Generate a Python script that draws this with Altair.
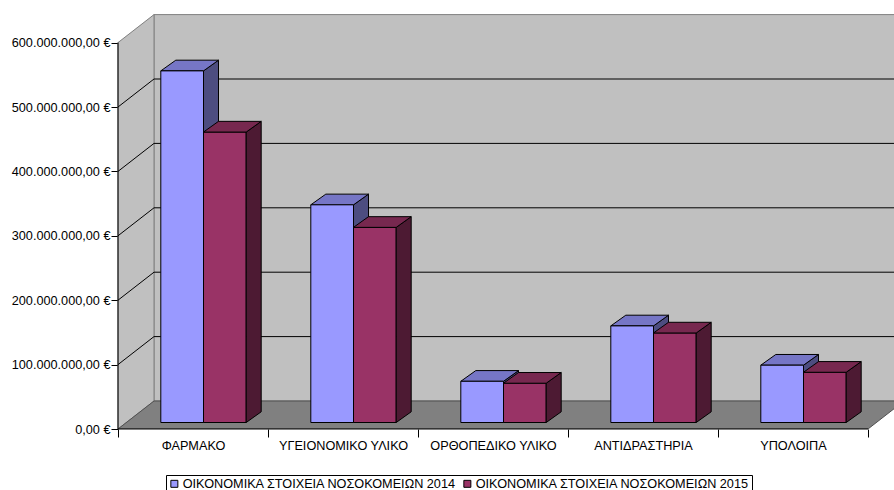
import json

import altair as alt
import pandas as pd

# ---- data -------------------------------------------------------------
categories = ["ΦΑΡΜΑΚΟ", "ΥΓΕΙΟΝΟΜΙΚΟ ΥΛΙΚΟ", "ΟΡΘΟΠΕΔΙΚΟ ΥΛΙΚΟ", "ΑΝΤΙΔΡΑΣΤΗΡΙΑ", "ΥΠΟΛΟΙΠΑ"]
series = [
    "ΟΙΚΟΝΟΜΙΚΑ ΣΤΟΙΧΕΙΑ ΝΟΣΟΚΟΜΕΙΩΝ 2014",
    "ΟΙΚΟΝΟΜΙΚΑ ΣΤΟΙΧΕΙΑ ΝΟΣΟΚΟΜΕΙΩΝ 2015",
]
values_2014 = [546e6, 338e6, 64e6, 150e6, 89e6]
values_2015 = [451e6, 303e6, 61e6, 139e6, 78e6]
y_ticks = [0, 100e6, 200e6, 300e6, 400e6, 500e6, 600e6]

# ---- styling ----------------------------------------------------------
front_colors = ["#9999FF", "#993366"]
top_colors = ["#7676C6", "#77284F"]
side_colors = ["#4D4D80", "#4D1A33"]
WALL = "#C0C0C0"
FLOOR = "#808080"
EDGE = "#808080"
FONT = "Liberation Sans"
FS = 12.7

# ---- geometry (pixel sizes converted into data units) ------------------
W, H = 776, 415
PX_PER_CAT = 150.0
AXIS_MAX = y_ticks[-1]
PX_PER_VAL = 386.4 / AXIS_MAX
XMAX = W / PX_PER_CAT
YMAX = H / PX_PER_VAL
N = len(categories)


def dx(p):
    return p / PX_PER_CAT


def dy(p):
    return p / PX_PER_VAL


WALL_DX, WALL_DY = dx(36), dy(28)
BAR_OX, BAR_OY = dx(10.5), dy(6.5)
BAR_W = dx(42.7)
BAR_DX, BAR_DY = dx(15), dy(10.7)

xs = alt.Scale(domain=[0, XMAX], nice=False, zero=False)
ys = alt.Scale(domain=[0, YMAX], nice=False, zero=False)

# one shared axis definition per channel, used by every layer
cat_expr = json.dumps(categories, ensure_ascii=False).replace('"', "'")
x_axis = alt.Axis(
    values=list(range(N + 1)),
    domain=False,
    grid=False,
    tickColor="black",
    tickSize=8,
    labelExpr=f"{cat_expr}[datum.value] || ''",
    labelOffset=PX_PER_CAT / 2,
    labelFlush=False,
    labelOverlap=False,
    labelBound=False,
    labelPadding=2,
    labelFont=FONT,
    labelFontSize=FS,
    labelColor="black",
    title=None,
)
y_axis = alt.Axis(
    values=y_ticks,
    domain=False,
    grid=False,
    tickColor="black",
    tickSize=7,
    labelExpr="datum.value == 0 ? '0,00 €' : format(datum.value / 1e6, 'd') + '.000.000,00 €'",
    labelPadding=1,
    labelFont=FONT,
    labelFontSize=FS,
    labelColor="black",
    title=None,
)


def X(field="x"):
    return alt.X(f"{field}:Q", scale=xs, axis=x_axis)


def Y(field="y"):
    return alt.Y(f"{field}:Q", scale=ys, axis=y_axis)


# ---- 3D bar faces -----------------------------------------------------
fronts, tops, sides = [], [], []
for s, vals in enumerate([values_2014, values_2015]):
    for i, v in enumerate(vals):
        x0 = i + 0.5 - BAR_W + BAR_OX + s * BAR_W
        x1 = x0 + BAR_W
        top = BAR_OY + v
        fid = f"{s}-{i}"
        fronts.append(dict(series=series[s], x=x0, x2=x1, y=BAR_OY, y2=top))
        tops.append(dict(s=s, id=fid, y=top, x=x0, x2=x1))
        tops.append(dict(s=s, id=fid, y=top + BAR_DY, x=x0 + BAR_DX, x2=x1 + BAR_DX))
        sides.append(dict(s=s, id=fid, x=x1, y=top, y2=BAR_OY))
        sides.append(dict(s=s, id=fid, x=x1 + BAR_DX, y=top + BAR_DY, y2=BAR_OY + BAR_DY))

front_df = pd.DataFrame(fronts)
top_df = pd.DataFrame(tops)
side_df = pd.DataFrame(sides)


def side_layer(s):
    return (
        alt.Chart(side_df[side_df.s == s])
        .mark_area(stroke="black", strokeWidth=1, fill=side_colors[s], opacity=1)
        .encode(x=X(), y=Y(), y2="y2:Q", detail="id:N")
    )


def top_layer(s):
    return (
        alt.Chart(top_df[top_df.s == s])
        .mark_area(orient="horizontal", stroke="black", strokeWidth=1, fill=top_colors[s], opacity=1)
        .encode(y=Y(), x=X(), x2="x2:Q", detail="id:N")
    )


front_layer = (
    alt.Chart(front_df)
    .mark_rect(stroke="black", strokeWidth=1, opacity=1)
    .encode(
        x=X(),
        x2="x2:Q",
        y=Y(),
        y2="y2:Q",
        fill=alt.Fill(
            "series:N",
            scale=alt.Scale(domain=series, range=front_colors),
            legend=alt.Legend(
                title=None,
                orient="none",
                legendX=48,
                legendY=461,
                direction="horizontal",
                symbolType="square",
                symbolSize=49,
                symbolStrokeColor="black",
                symbolStrokeWidth=1,
                symbolOpacity=1,
                labelFont=FONT,
                labelFontSize=FS,
                labelColor="black",
                labelLimit=1000,
                labelOffset=2,
                columnPadding=4,
                strokeColor="black",
                padding=2,
            ),
        ),
    )
)

# ---- walls, floor and gridlines ----------------------------------------
back_wall = (
    alt.Chart(pd.DataFrame([dict(x=WALL_DX, x2=N + WALL_DX, y=WALL_DY, y2=AXIS_MAX + WALL_DY)]))
    .mark_rect(fill=WALL, stroke=EDGE, strokeWidth=1, clip=True)
    .encode(x=X(), x2="x2:Q", y=Y(), y2="y2:Q")
)

side_wall = (
    alt.Chart(pd.DataFrame([
        dict(x=0, y=AXIS_MAX, y2=0),
        dict(x=WALL_DX, y=AXIS_MAX + WALL_DY, y2=WALL_DY),
    ]))
    .mark_area(fill=WALL, stroke=EDGE, strokeWidth=1, opacity=1)
    .encode(x=X(), y=Y(), y2="y2:Q")
)

floor = (
    alt.Chart(pd.DataFrame([
        dict(y=0, x=0, x2=N),
        dict(y=WALL_DY, x=WALL_DX, x2=N + WALL_DX),
    ]))
    .mark_area(orient="horizontal", fill=FLOOR, stroke="#505050", strokeWidth=1, opacity=1, clip=True)
    .encode(y=Y(), x=X(), x2="x2:Q")
)

inner_ticks = [t for t in y_ticks if 0 < t < AXIS_MAX]
back_grid = (
    alt.Chart(pd.DataFrame([dict(x=WALL_DX, x2=N + WALL_DX, y=t + WALL_DY) for t in inner_ticks]))
    .mark_rule(color="black", strokeWidth=1, clip=True)
    .encode(x=X(), x2="x2:Q", y=Y())
)

side_grid = (
    alt.Chart(pd.DataFrame([dict(x=0, x2=WALL_DX, y=t, y2=t + WALL_DY) for t in inner_ticks]))
    .mark_rule(color="black", strokeWidth=1)
    .encode(x=X(), x2="x2:Q", y=Y(), y2="y2:Q")
)

# value axis line and category axis line
axis_lines = (
    alt.Chart(pd.DataFrame([
        dict(x=0, x2=0, y=0, y2=AXIS_MAX),
        dict(x=0, x2=N, y=0, y2=0),
    ]))
    .mark_rule(color="black", strokeWidth=1)
    .encode(x=X(), x2="x2:Q", y=Y(), y2="y2:Q")
)

chart = (
    alt.layer(
        back_wall,
        side_wall,
        floor,
        back_grid,
        side_grid,
        axis_lines,
        side_layer(0),
        top_layer(0),
        front_layer,
        side_layer(1),
        top_layer(1),
    )
    .properties(
        width=W,
        height=H,
        autosize=alt.AutoSizeParams(type="none"),
        padding={"left": 118, "top": 14, "right": 0, "bottom": 61},
        background="white",
    )
    .configure_view(stroke=None)
)

chart.save("out.html", embed_options={"renderer": "svg", "actions": False})
